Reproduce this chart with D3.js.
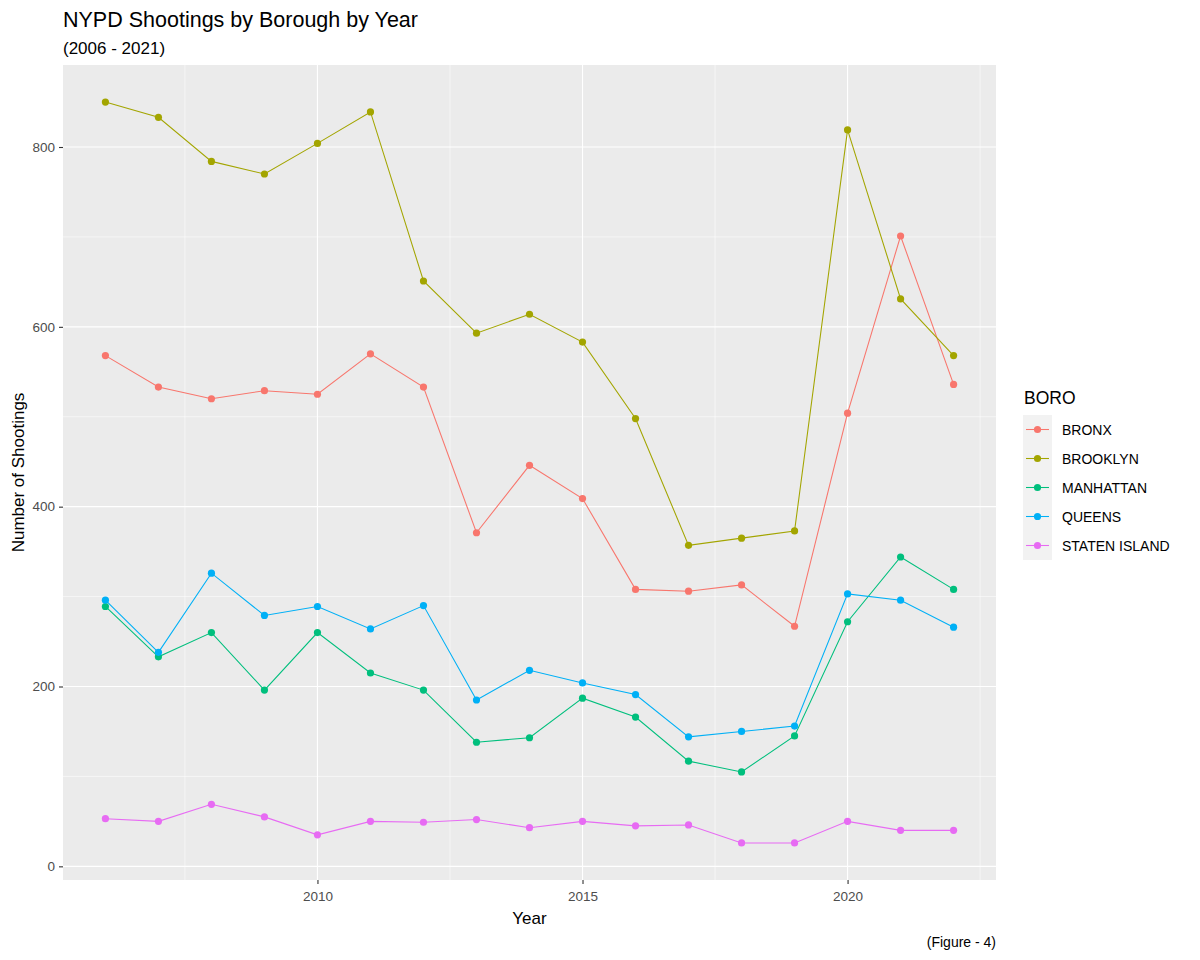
<!DOCTYPE html>
<html>
<head>
<meta charset="utf-8">
<script src="https://cdn.jsdelivr.net/npm/d3@7"></script>
<style>
  body { margin: 0; background: #fff; }
  text { font-family: "Liberation Sans", Arial, sans-serif; }
</style>
</head>
<body>
<svg id="chart" width="1200" height="960"></svg>
<script>
// years on the x axis
var years = [2006, 2007, 2008, 2009, 2010, 2011, 2012, 2013, 2014, 2015, 2016, 2017, 2018, 2019, 2020, 2021, 2022];

// shootings per borough
var bronx = [568, 533, 520, 529, 525, 570, 533, 371, 446, 409, 308, 306, 313, 267, 504, 701, 536];
var brooklyn = [850, 833, 784, 770, 804, 839, 651, 593, 614, 583, 498, 357, 365, 373, 819, 631, 568];
var manhattan = [289, 233, 260, 196, 260, 215, 196, 138, 143, 187, 166, 117, 105, 145, 272, 344, 308];
var queens = [296, 238, 326, 279, 289, 264, 290, 185, 218, 204, 191, 144, 150, 156, 303, 296, 266];
var statenIsland = [53, 50, 69, 55, 35, 50, 49, 52, 43, 50, 45, 46, 26, 26, 50, 40, 40];

var boroNames = ["BRONX", "BROOKLYN", "MANHATTAN", "QUEENS", "STATEN ISLAND"];
var boroValues = [bronx, brooklyn, manhattan, queens, statenIsland];
var boroColors = ["#F8766D", "#A3A500", "#00BF7D", "#00B0F6", "#E76BF3"];

var xTicks = [2010, 2015, 2020];
var xMinor = [2007.5, 2012.5, 2017.5, 2022.5];
var yTicks = [0, 200, 400, 600, 800];
var yMinor = [100, 300, 500, 700];

var svg = d3.select("#chart");
var panel = { left: 63, right: 996, top: 65, bottom: 880 };

// ggplot style 5% expansion
var xExt = d3.extent(years);
var xPad = (xExt[1] - xExt[0]) * 0.05;
var x = d3.scaleLinear()
  .domain([xExt[0] - xPad, xExt[1] + xPad])
  .range([panel.left, panel.right]);

var allVals = d3.merge(boroValues);
var yExt = d3.extent(allVals);
var yPad = (yExt[1] - yExt[0]) * 0.05;
var y = d3.scaleLinear()
  .domain([yExt[0] - yPad, yExt[1] + yPad])
  .range([panel.bottom, panel.top]);

// panel background
svg.append("rect")
  .attr("x", panel.left).attr("y", panel.top)
  .attr("width", panel.right - panel.left)
  .attr("height", panel.bottom - panel.top)
  .attr("fill", "#EBEBEB");

var grid = svg.append("g");
// minor grid
grid.selectAll(".xminor").data(xMinor).enter().append("line")
  .attr("x1", function (d) { return x(d); }).attr("x2", function (d) { return x(d); })
  .attr("y1", panel.top).attr("y2", panel.bottom)
  .attr("stroke", "#fff").attr("stroke-width", 0.55);
grid.selectAll(".yminor").data(yMinor).enter().append("line")
  .attr("y1", function (d) { return y(d); }).attr("y2", function (d) { return y(d); })
  .attr("x1", panel.left).attr("x2", panel.right)
  .attr("stroke", "#fff").attr("stroke-width", 0.55);
// major grid
grid.selectAll(".xmajor").data(xTicks).enter().append("line")
  .attr("x1", function (d) { return x(d); }).attr("x2", function (d) { return x(d); })
  .attr("y1", panel.top).attr("y2", panel.bottom)
  .attr("stroke", "#fff").attr("stroke-width", 1.1);
grid.selectAll(".ymajor").data(yTicks).enter().append("line")
  .attr("y1", function (d) { return y(d); }).attr("y2", function (d) { return y(d); })
  .attr("x1", panel.left).attr("x2", panel.right)
  .attr("stroke", "#fff").attr("stroke-width", 1.1);

// axes
var xAxis = svg.append("g")
  .attr("transform", "translate(0," + panel.bottom + ")")
  .call(d3.axisBottom(x).tickValues(xTicks).tickFormat(d3.format("d")).tickSize(4).tickSizeOuter(0).tickPadding(7));
var yAxis = svg.append("g")
  .attr("transform", "translate(" + panel.left + ",0)")
  .call(d3.axisLeft(y).tickValues(yTicks).tickSize(4).tickSizeOuter(0).tickPadding(4));
[xAxis, yAxis].forEach(function (ax) {
  ax.select(".domain").remove();
  ax.selectAll(".tick line").attr("stroke", "#333333").attr("stroke-width", 1.1);
  ax.selectAll(".tick text").attr("fill", "#4D4D4D")
    .style("font-size", "13.5px").style("font-family", "Liberation Sans, Arial, sans-serif");
});

// lines and points
var line = d3.line()
  .x(function (d, i) { return x(years[i]); })
  .y(function (d) { return y(d); });

boroValues.forEach(function (vals, k) {
  svg.append("path")
    .datum(vals)
    .attr("d", line)
    .attr("fill", "none")
    .attr("stroke", boroColors[k])
    .attr("stroke-width", 1.07);
});
boroValues.forEach(function (vals, k) {
  svg.append("g").selectAll("circle").data(vals).enter().append("circle")
    .attr("cx", function (d, i) { return x(years[i]); })
    .attr("cy", function (d) { return y(d); })
    .attr("r", 3.6)
    .attr("fill", boroColors[k]);
});

// titles
svg.append("text").attr("x", 63).attr("y", 27)
  .style("font-size", "21.5px").attr("fill", "#000")
  .text("NYPD Shootings by Borough by Year");
svg.append("text").attr("x", 63).attr("y", 54)
  .style("font-size", "17px").attr("fill", "#000")
  .text("(2006 - 2021)");
svg.append("text").attr("x", (panel.left + panel.right) / 2).attr("y", 924)
  .attr("text-anchor", "middle")
  .style("font-size", "17px").attr("fill", "#000")
  .text("Year");
svg.append("text")
  .attr("transform", "translate(24," + ((panel.top + panel.bottom) / 2) + ") rotate(-90)")
  .attr("text-anchor", "middle")
  .style("font-size", "17px").attr("fill", "#000")
  .text("Number of Shootings");
svg.append("text").attr("x", panel.right).attr("y", 947)
  .attr("text-anchor", "end")
  .style("font-size", "14px").attr("fill", "#000")
  .text("(Figure - 4)");

// legend
var legend = svg.append("g").attr("transform", "translate(1023,415)");
legend.append("text").attr("x", 1).attr("y", -11)
  .style("font-size", "17.5px").attr("fill", "#000")
  .text("BORO");
var rowH = 29;
var rows = legend.selectAll(".row").data(boroNames).enter().append("g")
  .attr("transform", function (d, i) { return "translate(0," + (i * rowH) + ")"; });
rows.append("rect")
  .attr("width", 29).attr("height", rowH)
  .attr("fill", "#F2F2F2");
rows.append("line")
  .attr("x1", 3).attr("x2", 26)
  .attr("y1", rowH / 2).attr("y2", rowH / 2)
  .attr("stroke", function (d, i) { return boroColors[i]; })
  .attr("stroke-width", 1.07);
rows.append("circle")
  .attr("cx", 14.5).attr("cy", rowH / 2).attr("r", 3.6)
  .attr("fill", function (d, i) { return boroColors[i]; });
rows.append("text")
  .attr("x", 39).attr("y", rowH / 2 + 5)
  .style("font-size", "14px").attr("fill", "#000")
  .text(function (d) { return d; });
</script>
</body>
</html>
